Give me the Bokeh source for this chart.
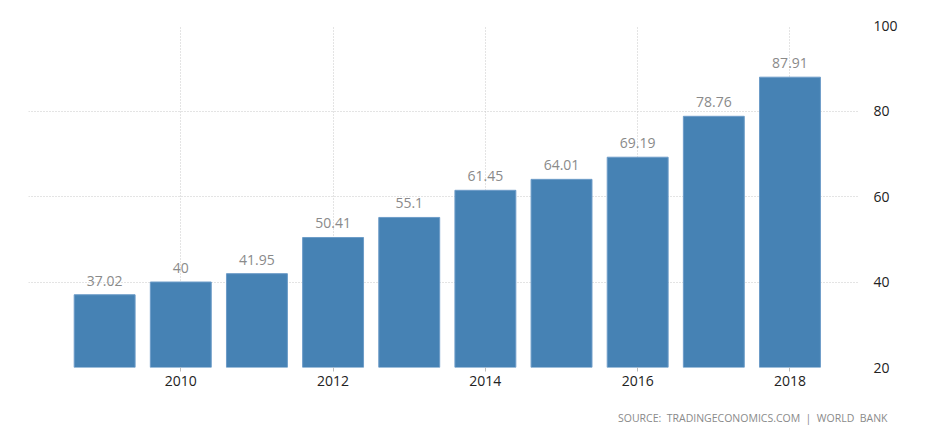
from bokeh.plotting import figure
from bokeh.models import ColumnDataSource, FixedTicker, LinearAxis, Range1d, Title
from bokeh.embed import file_html
from bokeh.resources import INLINE
from bokeh.core.properties import value

years = [2009, 2010, 2011, 2012, 2013, 2014, 2015, 2016, 2017, 2018]
values = [37.02, 40, 41.95, 50.41, 55.1, 61.45, 64.01, 69.19, 78.76, 87.91]
labels = ["37.02", "40", "41.95", "50.41", "55.1", "61.45", "64.01", "69.19", "78.76", "87.91"]
x_ticks = [2010, 2012, 2014, 2016, 2018]
y_ticks = [20, 40, 60, 80, 100]
source_text = "SOURCE:\u00a0 TRADINGECONOMICS.COM\u00a0 |\u00a0 WORLD\u00a0 BANK"

src = ColumnDataSource(dict(x=years, top=values, label=labels))

p = figure(frame_width=830, frame_height=342, output_backend="svg", toolbar_location=None,
           x_range=Range1d(2008.0, 2018.9), y_range=Range1d(20, 100),
           y_axis_location=None,
           min_border_left=28, min_border_top=25, min_border_right=70, min_border_bottom=4)
p.outline_line_color = None
p.background_fill_color = "white"

p.vbar(x="x", top="top", bottom=20, width=0.8, source=src,
       fill_color="#4682b4", line_color="#6d9cc8", line_width=1)

p.text(x="x", y="top", text="label", source=src, text_align="center",
       text_baseline="bottom", y_offset=-9, text_font=value("Open Sans"),
       text_font_size="14px", text_color="#8a8a8a")

yax = LinearAxis(ticker=FixedTicker(ticks=y_ticks))
yax.axis_line_color = None
yax.major_tick_line_color = None
yax.minor_tick_line_color = None
yax.major_label_standoff = 9
yax.major_label_text_font = "Open Sans"
yax.major_label_text_font_size = "14px"
yax.major_label_text_color = "#222222"
p.add_layout(yax, "right")

xax = p.xaxis[0]
xax.ticker = FixedTicker(ticks=x_ticks)
xax.axis_line_color = None
xax.major_tick_line_color = "#bbbbbb"
xax.major_tick_in = 0
xax.major_tick_out = 4
xax.minor_tick_line_color = None
xax.major_label_standoff = 4
xax.major_label_text_font = "Open Sans"
xax.major_label_text_font_size = "14px"
xax.major_label_text_color = "#222222"

p.xgrid.ticker = FixedTicker(ticks=x_ticks)
p.ygrid.ticker = FixedTicker(ticks=y_ticks)
for g in (p.xgrid[0], p.ygrid[0]):
    g.grid_line_color = "#c8c8c8"
    g.grid_line_dash = "1 2"
    g.grid_line_width = 1

p.add_layout(Title(text=source_text, align="right", offset=-29, standoff=40,
                   text_font="Open Sans", text_font_size="10.5px",
                   text_font_style="normal", text_color="#8a8a8a"), "below")

open("out.html", "w").write(file_html(p, INLINE))
